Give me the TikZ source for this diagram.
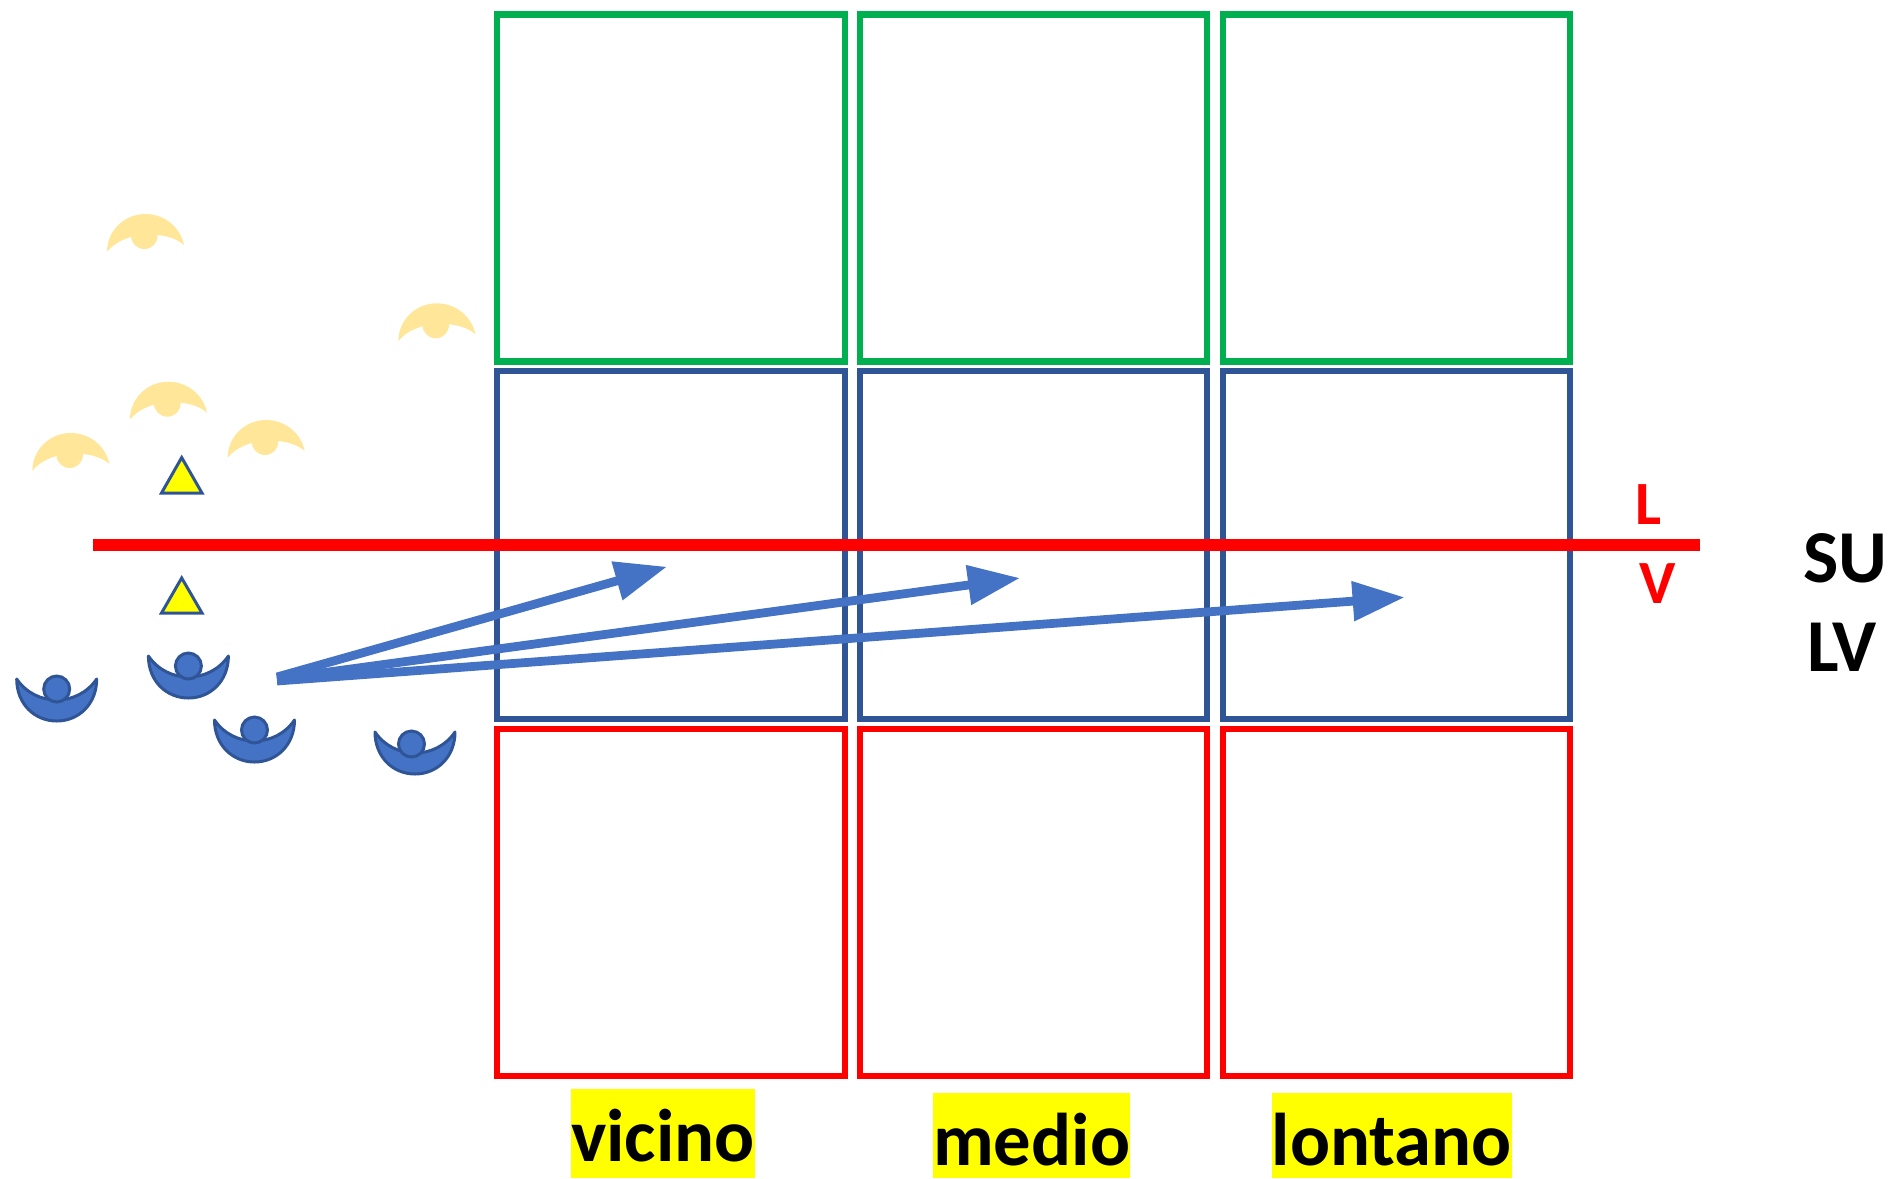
\documentclass[tikz,border=0pt]{standalone}
\usepackage{fontspec}
\setmainfont{Carlito}
\usetikzlibrary{arrows.meta}
\definecolor{cgreen}{HTML}{00B050}
\definecolor{cdark}{HTML}{2F5597}
\definecolor{cred}{HTML}{FF0000}
\definecolor{cblue}{HTML}{4472C4}
\definecolor{cpale}{HTML}{FFE699}
\definecolor{cyel}{HTML}{FFFF00}
\tikzset{
  cell/.style={rectangle,draw,line width=3.7pt,inner sep=0pt,minimum width=6.96cm,minimum height=6.96cm},
  greencell/.style={cell,draw=cgreen},
  bluecell/.style={cell,draw=cdark},
  redcell/.style={cell,draw=cred},
  axis/.style={draw=cred,line width=7.2pt},
  flow/.style={draw=cblue,line width=5pt,-{Stealth[length=1.04cm,width=.76cm,inset=0pt]}},
  tri/.style={draw=cdark,fill=cyel,line width=1.7pt,line join=miter},
  bigtag/.style={font=\bfseries\fontsize{42.5}{50}\selectfont,inner sep=0pt,anchor=base},
  redtag/.style={font=\bfseries\fontsize{35}{42}\selectfont,text=cred,inner sep=0pt,anchor=base},
  band/.style={bigtag,fill=cyel,align=center},
  pics/bluefig/.style 2 args={code={
    \path[fill=cblue,draw=cdark,line width=1.7pt,line join=round]
      (-40,2) .. controls (-40,27) and (-22,44) .. (0,44)
      .. controls (22,44) and (40,27) .. (40,2)
      .. controls (21,30) and (-21,30) .. (-40,2) -- cycle;
    \path[fill=cblue,draw=cdark,line width=1.7pt] (#1,#2) circle[radius=.26cm];
  }},
  pics/palefig/.style={code={
    \path[fill=cpale]
      (-38.3,37.7) .. controls (-38.3,16.7) and (-21,0) .. (0,0)
      .. controls (19,0) and (35,13) .. (38.7,31)
      .. controls (24,17) and (-20,15) .. (-38.3,37.7) -- cycle;
    \path[fill=cpale] (-1,21.7) circle[radius=.266cm];
  }},
}
\begin{document}
\begin{tikzpicture}[x=.02cm,y=-.02cm]
\useasboundingbox (0,0) rectangle (1893,1178);
% cells
\node[greencell,minimum height=6.95cm] (g1) at (671,188) {};
\node[greencell,minimum width=6.94cm,minimum height=6.95cm] (g2) at (1033.5,188) {};
\node[greencell,minimum width=6.94cm,minimum height=6.95cm] (g3) at (1396.5,188) {};
\node[bluecell] (b1) at (671,545) {};
\node[bluecell,minimum width=6.94cm] (b2) at (1033.5,545) {};
\node[bluecell,minimum width=6.94cm] (b3) at (1396.5,545) {};
\node[redcell,minimum height=6.94cm] (r1) at (671,902.5) {};
\node[redcell,minimum width=6.94cm,minimum height=6.94cm] (r2) at (1033.5,902.5) {};
\node[redcell,minimum width=6.94cm,minimum height=6.94cm] (r3) at (1396.5,902.5) {};
% pale figures
\pic at (145.3,214) {palefig};
\pic at (436.7,303.3) {palefig};
\pic at (168.3,381.7) {palefig};
\pic at (70.7,433) {palefig};
\pic at (266,420) {palefig};
% triangles
\draw[tri] (181.7,457.5) -- (202,493) -- (161.5,493) -- cycle;
\draw[tri] (181.7,578) -- (202,613) -- (161.5,613) -- cycle;
% blue figures
\pic at (56.7,677) {bluefig={0}{12}};
\pic at (188.4,654) {bluefig={0}{12}};
\pic at (254.5,718) {bluefig={0}{12}};
\pic at (415,730) {bluefig={-3.5}{14}};
% red axis
\coordinate (axl) at (93,545);
\coordinate (axr) at (1700,545);
\draw[axis] (axl) -- (axr);
% arrows
\coordinate (s1) at (277,677);
\coordinate (s2) at (277,679);
\coordinate (s3) at (277,681);
\coordinate (t1) at (667,566.7);
\coordinate (t2) at (1020,578);
\coordinate (t3) at (1404.6,597.3);
\draw[flow] (s1) -- (t1);
\draw[flow] (s2) -- (t2);
\draw[flow] (s3) -- (t3);
% labels
\node[redtag] (lL) at (1648.5,524) {L};
\node[redtag] (lV) at (1658,603) {V};
\node[bigtag] (lSU) at (1845,582) {SU};
\node[bigtag] (lLV) at (1842,671) {LV};
\node[band,text height=1.44cm,text depth=.34cm,text width=3.68cm] (lvic) at (663,1161) {vicino};
\node[band,text height=1.44cm,text depth=.26cm,text width=3.95cm] (lmed) at (1031.7,1165) {medio};
\node[band,text height=1.44cm,text depth=.26cm,text width=4.81cm] (llon) at (1391.8,1165) {lontano};
\end{tikzpicture}
\end{document}
